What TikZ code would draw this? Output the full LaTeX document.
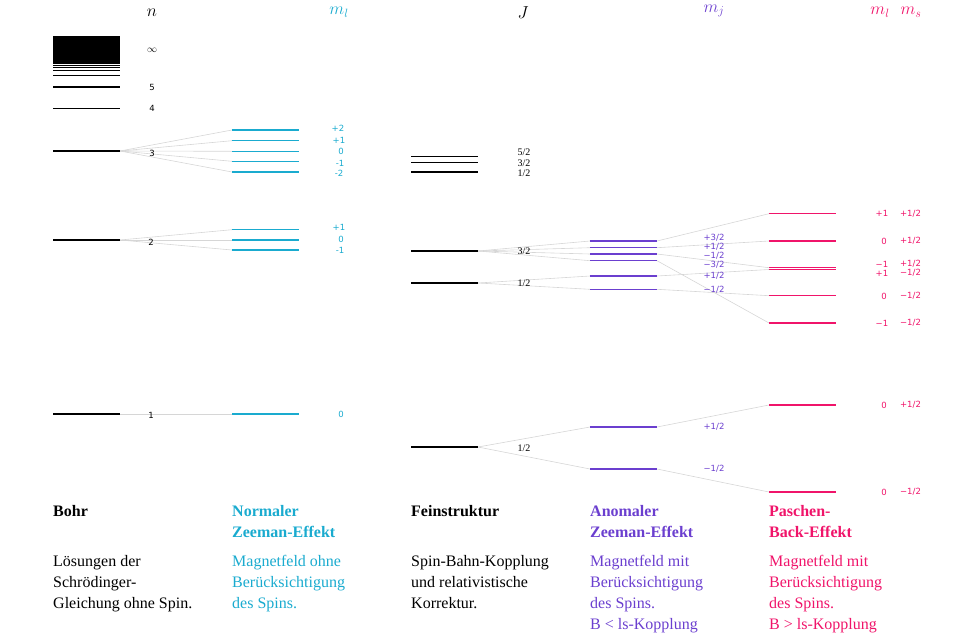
\documentclass[tikz,border=0pt]{standalone}
\usepackage{fontspec}
\setmainfont{Liberation Serif}
\newfontfamily\lblfont{DejaVu Sans}
\definecolor{zcyan}{HTML}{1AABCF}
\definecolor{apurple}{HTML}{6B3FCF}
\definecolor{pbpink}{HTML}{F0146A}
\pgfdeclarelayer{bg}
\pgfsetlayers{bg,main}
\newcommand\lev[4]{%
  \coordinate (#1-l) at (#2,#3);
  \coordinate (#1-r) at ({#2+67},#3);
  \draw[lvl,#4] (#1-l) -- (#1-r);}
\begin{document}
\begin{tikzpicture}[x=1pt,y=-1pt,
  lvl/.style={line width=1.1pt},
  conn/.style={draw=black!16,line width=0.6pt},
  num/.style={font=\lblfont\fontsize{8.5}{10}\selectfont,inner sep=0pt},
  jnum/.style={font=\fontsize{10}{12}\selectfont,inner sep=0pt},
  hdr/.style={font=\fontsize{17}{20}\selectfont,inner sep=0pt},
  head/.style={font=\bfseries\fontsize{16}{21}\selectfont,inner sep=0pt,anchor=base west,align=left},
  body/.style={font=\fontsize{16}{21}\selectfont,inner sep=0pt,anchor=base west,align=left}]
\useasboundingbox (0,0) rectangle (960,640);

% headers
\node[hdr] (hn) at (152,13) {$n$};
\node[hdr,text=zcyan] (hml) at (339,12) {$m_l$};
\node[hdr] (hJ) at (523,13) {$J$};
\node[hdr,text=apurple] (hmj) at (714,11) {$m_j$};
\node[hdr,text=pbpink] (hml2) at (880,12) {$m_l$};
\node[hdr,text=pbpink] (hms) at (911,12) {$m_s$};

% Bohr
\fill (53,36) rectangle (120,64);
\lev{b9}{53}{65.7}{line width=0.9pt}
\lev{b8}{53}{67.5}{line width=0.9pt}
\lev{b7}{53}{70.7}{line width=1pt}
\lev{b6}{53}{75.7}{}
\lev{b5}{53}{87}{}
\lev{b4}{53}{108.3}{}
\lev{b3}{53}{151}{}
\lev{b2}{53}{240}{}
\lev{b1}{53}{414}{}

% normal Zeeman
\lev{z3a}{232}{130}{zcyan}
\lev{z3b}{232}{140.7}{zcyan}
\lev{z3c}{232}{151.3}{zcyan}
\lev{z3d}{232}{161.3}{zcyan}
\lev{z3e}{232}{172}{zcyan}
\lev{z2a}{232}{229.7}{zcyan}
\lev{z2b}{232}{240}{zcyan}
\lev{z2c}{232}{250}{zcyan}
\lev{z1}{232}{414}{zcyan}

% Feinstruktur
\lev{f52}{411}{156.7}{}
\lev{f32t}{411}{162.3}{}
\lev{f12t}{411}{172}{}
\lev{f32}{411}{251}{}
\lev{f12}{411}{283}{}
\lev{f1}{411}{447}{}

% anomalous Zeeman
\lev{a1}{590}{241}{apurple}
\lev{a2}{590}{247.7}{apurple}
\lev{a3}{590}{254}{apurple}
\lev{a4}{590}{260.7}{apurple}
\lev{a5}{590}{276}{apurple}
\lev{a6}{590}{289.3}{apurple}
\lev{a7}{590}{427}{apurple}
\lev{a8}{590}{469}{apurple}

% Paschen-Back
\lev{p1}{769}{213.7}{pbpink}
\lev{p2}{769}{241}{pbpink}
\lev{p3a}{769}{267.7}{pbpink}
\lev{p3b}{769}{269.5}{pbpink}
\lev{p4}{769}{295.7}{pbpink}
\lev{p5}{769}{323}{pbpink}
\lev{p6}{769}{405}{pbpink}
\lev{p7}{769}{492}{pbpink}

\begin{pgfonlayer}{bg}
\foreach \t in {z3a,z3b,z3c,z3d,z3e} \draw[conn] (b3-r) -- (\t-l);
\foreach \t in {z2a,z2b,z2c} \draw[conn] (b2-r) -- (\t-l);
\draw[conn] (b1-r) -- (z1-l);
\foreach \t in {a1,a2,a3,a4} \draw[conn] (f32-r) -- (\t-l);
\foreach \t in {a5,a6} \draw[conn] (f12-r) -- (\t-l);
\foreach \t in {a7,a8} \draw[conn] (f1-r) -- (\t-l);
\draw[conn] (a1-r) -- (p1-l);
\draw[conn] (a2-r) -- (p2-l);
\draw[conn] (a3-r) -- (p3a-l);
\draw[conn] (a4-r) -- (p5-l);
\draw[conn] (a5-r) -- (p3b-l);
\draw[conn] (a6-r) -- (p4-l);
\draw[conn] (a7-r) -- (p6-l);
\draw[conn] (a8-r) -- (p7-l);
\end{pgfonlayer}

% n labels
\node[jnum] (ninf) at (152,50) {$\infty$};
\node[num] (n5) at (152,87) {5};
\node[num] (n4) at (152,108.5) {4};
\node[num] (n3) at (152,153) {3};
\node[num] (n2) at (151,242) {2};
\node[num] (n1) at (151,415) {1};

% m_l labels
\begin{scope}[every node/.append style={num,text=zcyan}]
\node (ml1) at (338,128) {+2};
\node (ml2) at (339,140) {+1};
\node (ml3) at (341,151.5) {0};
\node (ml4) at (340,163) {-1};
\node (ml5) at (339,173) {-2};
\node (ml6) at (339,227.5) {+1};
\node (ml7) at (341,239) {0};
\node (ml8) at (340,250) {-1};
\node (ml9) at (341,414) {0};
\end{scope}

% J labels
\node[jnum] (j1) at (524,152) {5/2};
\node[jnum] (j2) at (524,163) {3/2};
\node[jnum] (j3) at (524,173) {1/2};
\node[jnum] (j4) at (524,251) {3/2};
\node[jnum] (j5) at (524,283) {1/2};
\node[jnum] (j6) at (524,448) {1/2};

% m_j labels
\begin{scope}[every node/.append style={num,text=apurple}]
\node (mj1) at (714,238) {+3/2};
\node (mj2) at (714,246.5) {+1/2};
\node (mj3) at (714,255.5) {−1/2};
\node (mj4) at (714,264.5) {−3/2};
\node (mj5) at (714,276) {+1/2};
\node (mj6) at (714,290) {−1/2};
\node (mj7) at (714,427) {+1/2};
\node (mj8) at (714,469) {−1/2};
\end{scope}

% Paschen-Back labels
\begin{scope}[every node/.append style={num,text=pbpink}]
\node (pl1) at (882,213.7) {+1};  \node (ps1) at (910.5,213.7) {+1/2};
\node (pl2) at (884,241) {0};     \node (ps2) at (910.5,241) {+1/2};
\node (pl3) at (882,264) {−1};    \node (ps3) at (910.5,264) {+1/2};
\node (pl4) at (882,273) {+1};    \node (ps4) at (910.5,273) {−1/2};
\node (pl5) at (884,296) {0};     \node (ps5) at (910.5,296) {−1/2};
\node (pl6) at (882,323) {−1};    \node (ps6) at (910.5,323) {−1/2};
\node (pl7) at (884,405) {0};     \node (ps7) at (910.5,405) {+1/2};
\node (pl8) at (884,492) {0};     \node (ps8) at (910.5,492) {−1/2};
\end{scope}

% bottom texts (base anchor = last line's baseline)
\node[head] (t1h) at (53,516) {Bohr};
\node[body] (t1b) at (53,608) {Lösungen der\\Schrödinger-\\Gleichung ohne Spin.};
\node[head,text=zcyan] (t2h) at (232,537) {Normaler\\Zeeman-Effekt};
\node[body,text=zcyan] (t2b) at (232,608) {Magnetfeld ohne\\Berücksichtigung\\des Spins.};
\node[head] (t3h) at (411,516) {Feinstruktur};
\node[body] (t3b) at (411,608) {Spin-Bahn-Kopplung\\und relativistische\\Korrektur.};
\node[head,text=apurple] (t4h) at (590,537) {Anomaler\\Zeeman-Effekt};
\node[body,text=apurple] (t4b) at (590,629) {Magnetfeld mit\\Berücksichtigung\\des Spins.\\B < ls-Kopplung};
\node[head,text=pbpink] (t5h) at (769,537) {Paschen-\\Back-Effekt};
\node[body,text=pbpink] (t5b) at (769,629) {Magnetfeld mit\\Berücksichtigung\\des Spins.\\B > ls-Kopplung};
\end{tikzpicture}
\end{document}
